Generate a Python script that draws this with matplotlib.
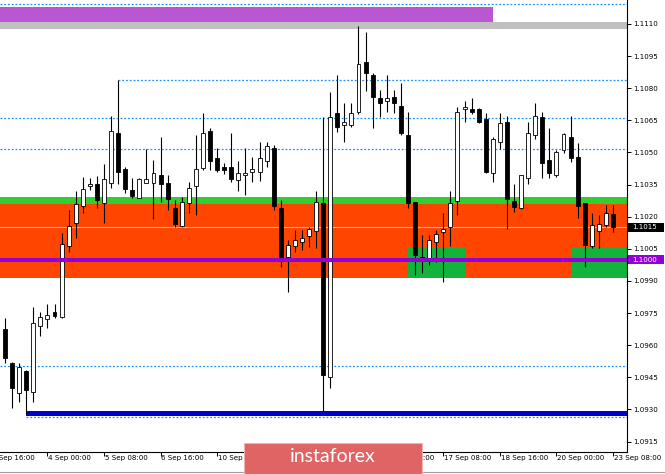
import numpy as np
import matplotlib.pyplot as plt
from matplotlib.patches import Rectangle
from matplotlib.lines import Line2D

# EURUSD H4, 3 Sep 00:00 .. 23 Sep 08:00
opens = [1.09676, 1.09517, 1.09377, 1.09480, 1.09381, 1.09690, 1.09722, 1.09755, 1.09732, 1.10063,
         1.10171, 1.10250, 1.10343, 1.10353, 1.10264, 1.10357, 1.10591, 1.10423, 1.10325, 1.10287,
         1.10357, 1.10357, 1.10395, 1.10357, 1.10241, 1.10157, 1.10264, 1.10343, 1.10428, 1.10600,
         1.10474, 1.10432, 1.10432, 1.10371, 1.10395, 1.10409, 1.10409, 1.10460, 1.10521, 1.10241,
         1.10012, 1.10063, 1.10082, 1.10110, 1.10133, 1.10264, 1.09451, 1.10684, 1.10628, 1.10628,
         1.10689, 1.10923, 1.10862, 1.10754, 1.10740, 1.10759, 1.10717, 1.10582, 1.10269, 1.10012,
         1.10007, 1.10082, 1.10129, 1.10152, 1.10273, 1.10703, 1.10703, 1.10703, 1.10656, 1.10404,
         1.10549, 1.10642, 1.10273, 1.10241, 1.10381, 1.10582, 1.10666, 1.10465, 1.10395, 1.10512,
         1.10572, 1.10479, 1.10264, 1.10063, 1.10133, 1.10161, 1.10213]
highs = [1.09727, 1.09522, 1.09517, 1.09485, 1.09778, 1.09755, 1.09792, 1.09792, 1.10124, 1.10231,
         1.10320, 1.10385, 1.10381, 1.10390, 1.10446, 1.10670, 1.10838, 1.10432, 1.10381, 1.10381,
         1.10516, 1.10465, 1.10572, 1.10395, 1.10278, 1.10292, 1.10362, 1.10582, 1.10684, 1.10614,
         1.10521, 1.10451, 1.10591, 1.10460, 1.10521, 1.10479, 1.10549, 1.10549, 1.10535, 1.10278,
         1.10091, 1.10138, 1.10138, 1.10152, 1.10320, 1.10666, 1.10782, 1.10862, 1.10731, 1.10731,
         1.11091, 1.11063, 1.10871, 1.10792, 1.10862, 1.10792, 1.10824, 1.10689, 1.10269, 1.10115,
         1.10115, 1.10138, 1.10217, 1.10320, 1.10712, 1.10740, 1.10754, 1.10708, 1.10684, 1.10572,
         1.10684, 1.10670, 1.10353, 1.10395, 1.10642, 1.10731, 1.10689, 1.10614, 1.10512, 1.10591,
         1.10670, 1.10544, 1.10264, 1.10217, 1.10208, 1.10255, 1.10255]
lows = [1.09517, 1.09307, 1.09335, 1.09279, 1.09335, 1.09643, 1.09680, 1.09727, 1.09727, 1.10035,
        1.10101, 1.10217, 1.10325, 1.10241, 1.10171, 1.10334, 1.10353, 1.10311, 1.10287, 1.10287,
        1.10357, 1.10189, 1.10269, 1.10231, 1.10152, 1.10152, 1.10217, 1.10208, 1.10418, 1.10418,
        1.10409, 1.10399, 1.10362, 1.10320, 1.10301, 1.10362, 1.10367, 1.10432, 1.10231, 1.09965,
        1.09848, 1.10035, 1.10045, 1.10059, 1.10054, 1.09288, 1.09400, 1.10596, 1.10549, 1.10619,
        1.10680, 1.10787, 1.10614, 1.10666, 1.10689, 1.10684, 1.10582, 1.10241, 1.09928, 1.09937,
        1.09975, 1.09989, 1.09895, 1.10063, 1.10208, 1.10642, 1.10680, 1.10638, 1.10404, 1.10362,
        1.10516, 1.10143, 1.10222, 1.10236, 1.10353, 1.10563, 1.10381, 1.10381, 1.10385, 1.10498,
        1.10456, 1.10194, 1.09965, 1.10054, 1.10054, 1.10152, 1.10129]
closes = [1.09540, 1.09400, 1.09498, 1.09391, 1.09704, 1.09732, 1.09741, 1.09736, 1.10073, 1.10157,
          1.10259, 1.10329, 1.10353, 1.10278, 1.10376, 1.10600, 1.10409, 1.10329, 1.10297, 1.10376,
          1.10376, 1.10404, 1.10353, 1.10283, 1.10166, 1.10269, 1.10334, 1.10423, 1.10591, 1.10460,
          1.10418, 1.10418, 1.10376, 1.10404, 1.10404, 1.10423, 1.10474, 1.10530, 1.10250, 1.10012,
          1.10068, 1.10091, 1.10101, 1.10143, 1.10269, 1.09461, 1.10666, 1.10619, 1.10642, 1.10684,
          1.10913, 1.10871, 1.10759, 1.10731, 1.10754, 1.10731, 1.10591, 1.10264, 1.10021, 1.10007,
          1.10091, 1.10119, 1.10143, 1.10264, 1.10689, 1.10712, 1.10689, 1.10642, 1.10409, 1.10563,
          1.10638, 1.10283, 1.10245, 1.10395, 1.10591, 1.10670, 1.10451, 1.10404, 1.10502, 1.10586,
          1.10474, 1.10250, 1.10068, 1.10161, 1.10166, 1.10217, 1.10152]

# time axis labels, one every 8 bars starting 2 bars before the first candle
time_labels = ["3 Sep 16:00", "4 Sep 00:00", "5 Sep 08:00", "6 Sep 16:00", "10 Sep 00:00",
               "11 Sep 08:00", "12 Sep 16:00", "16 Sep 00:00", "17 Sep 08:00", "18 Sep 16:00",
               "20 Sep 00:00", "23 Sep 08:00"]
price_ticks = [1.1110, 1.1095, 1.1080, 1.1065, 1.1050, 1.1035, 1.1020, 1.1005,
               1.0990, 1.0975, 1.0960, 1.0945, 1.0930, 1.0915]

# levels / zones drawn on the chart
top_level = 1.11193
purple_zone = (1.11109, 1.11179)
gray_zone = (1.11077, 1.11109)
dotted_levels = [1.10661, 1.10514, 1.09503]
high_level = 1.10838          # starts at bar 16
green_strip = (1.10259, 1.10292)
red_zone = (1.09914, 1.10259)
green_boxes = [(57, 65), (80, 90)]
green_box_range = (1.09914, 1.10059)
round_level = 1.1000
last_price = 1.1015
blue_zone = (1.09270, 1.09293)
blue_dotted = 1.09265          # both start at bar 3

n = len(opens)
xs = np.arange(n)
o = np.array(opens); c = np.array(closes)
h = np.array(highs); l = np.array(lows)

W, H = 665, 474
fig = plt.figure(figsize=(W / 100, H / 100), dpi=100)
fig.patch.set_facecolor("white")
ax = fig.add_axes([0, 1 - 452 / H, 627 / W, 452 / H])
xmin, xmax = -0.71, 87.98
ymin, ymax = 1.09101, 1.11212
ax.set_xlim(xmin, xmax)
ax.set_ylim(ymin, ymax)

# background zones
ax.axhspan(*red_zone, color="#ff4500", lw=0, zorder=1)
ax.axhspan(*green_strip, color="#32cd32", lw=0, zorder=1)
for x0, x1 in green_boxes:
    ax.add_patch(Rectangle((x0, green_box_range[0]), x1 - x0,
                           green_box_range[1] - green_box_range[0],
                           color="#12b43c", lw=0, zorder=1.2))
ax.axhspan(*gray_zone, color="#c0c0c0", lw=0, zorder=1)
ax.add_patch(Rectangle((xmin, purple_zone[0]), 69 - xmin,
                       purple_zone[1] - purple_zone[0], color="#ba55d3", lw=0, zorder=1))
ax.add_patch(Rectangle((3, blue_zone[0]), xmax - 3, blue_zone[1] - blue_zone[0],
                       color="#0000cd", lw=0, zorder=1))

# dotted lines
dot = dict(color="#1e90ff", lw=0.9, ls=(0, (1.5, 1.5)), zorder=1.7)
ax.axhline(top_level, **dot)
for lv in dotted_levels:
    ax.axhline(lv, **dot)
ax.hlines(high_level, 16, xmax, **dot)
ax.hlines(blue_dotted, 3, xmax, **dot)
ax.axhline(last_price, color="#c8c8c8", lw=0.8, zorder=1.6)

# candles
ax.vlines(xs, l, h, color="black", lw=0.8, zorder=2)
up = c >= o
body = np.maximum(np.abs(c - o), 0.00003)
bottom = np.minimum(o, c)
ax.bar(xs[up], body[up], bottom=bottom[up], width=0.56, facecolor="white",
       edgecolor="black", lw=0.6, zorder=3)
ax.bar(xs[~up], body[~up], bottom=bottom[~up], width=0.56, facecolor="black",
       edgecolor="black", lw=0.6, zorder=3)

ax.axhline(round_level, color="#9400d3", lw=2.9, zorder=4)

# axes look
for s in ["top", "left"]:
    ax.spines[s].set_visible(False)
for s in ["right", "bottom"]:
    ax.spines[s].set_linewidth(0.8)
ax.yaxis.tick_right()
ax.set_yticks(price_ticks)
ax.set_yticklabels(["%.4f" % p for p in price_ticks])
ax.tick_params(axis="y", length=3, width=0.7, pad=1.5, labelsize=5.1)
tick_pos = [-2 + 8 * k for k in range(len(time_labels))]
ax.set_xticks([t for t in tick_pos if t > xmin])
ax.set_xticklabels([])
ax.tick_params(axis="x", length=3, width=0.7)
for t, lab in zip(tick_pos, time_labels):
    ax.annotate(lab, xy=(t, 0), xycoords=("data", "axes fraction"), xytext=(0.5, -2.5),
                textcoords="offset points", ha="left", va="top", fontsize=5.1,
                annotation_clip=False)

# price tags on the right scale
for val, col in [(last_price, "black"), (round_level, "#9400d3")]:
    yf = (1 - 452 / H) + (val - ymin) / (ymax - ymin) * 452 / H
    fig.patches.append(Rectangle((628 / W, yf - 4.6 / H), 36 / W, 9.2 / H,
                                 transform=fig.transFigure, color=col, lw=0, zorder=5))
    fig.text(632 / W, yf, "%.4f" % val, color="white", fontsize=5.1,
             ha="left", va="center", zorder=6)

# bottom frame line and watermark
fig.add_artist(Line2D([0, 1], [2 / H, 2 / H], color="#a0a0a0", lw=0.8))
fig.patches.append(Rectangle((244 / W, 0), 178 / W, 31 / H, transform=fig.transFigure,
                             facecolor="#e06464", edgecolor="#f2b0b0", lw=0.8, zorder=10))
fig.text(333 / W, 1 - 457 / H, "instaforex", color="white", fontsize=14,
         family="Lato", weight="normal", ha="center", va="center", zorder=11)

fig.savefig("out.png", dpi=100)
